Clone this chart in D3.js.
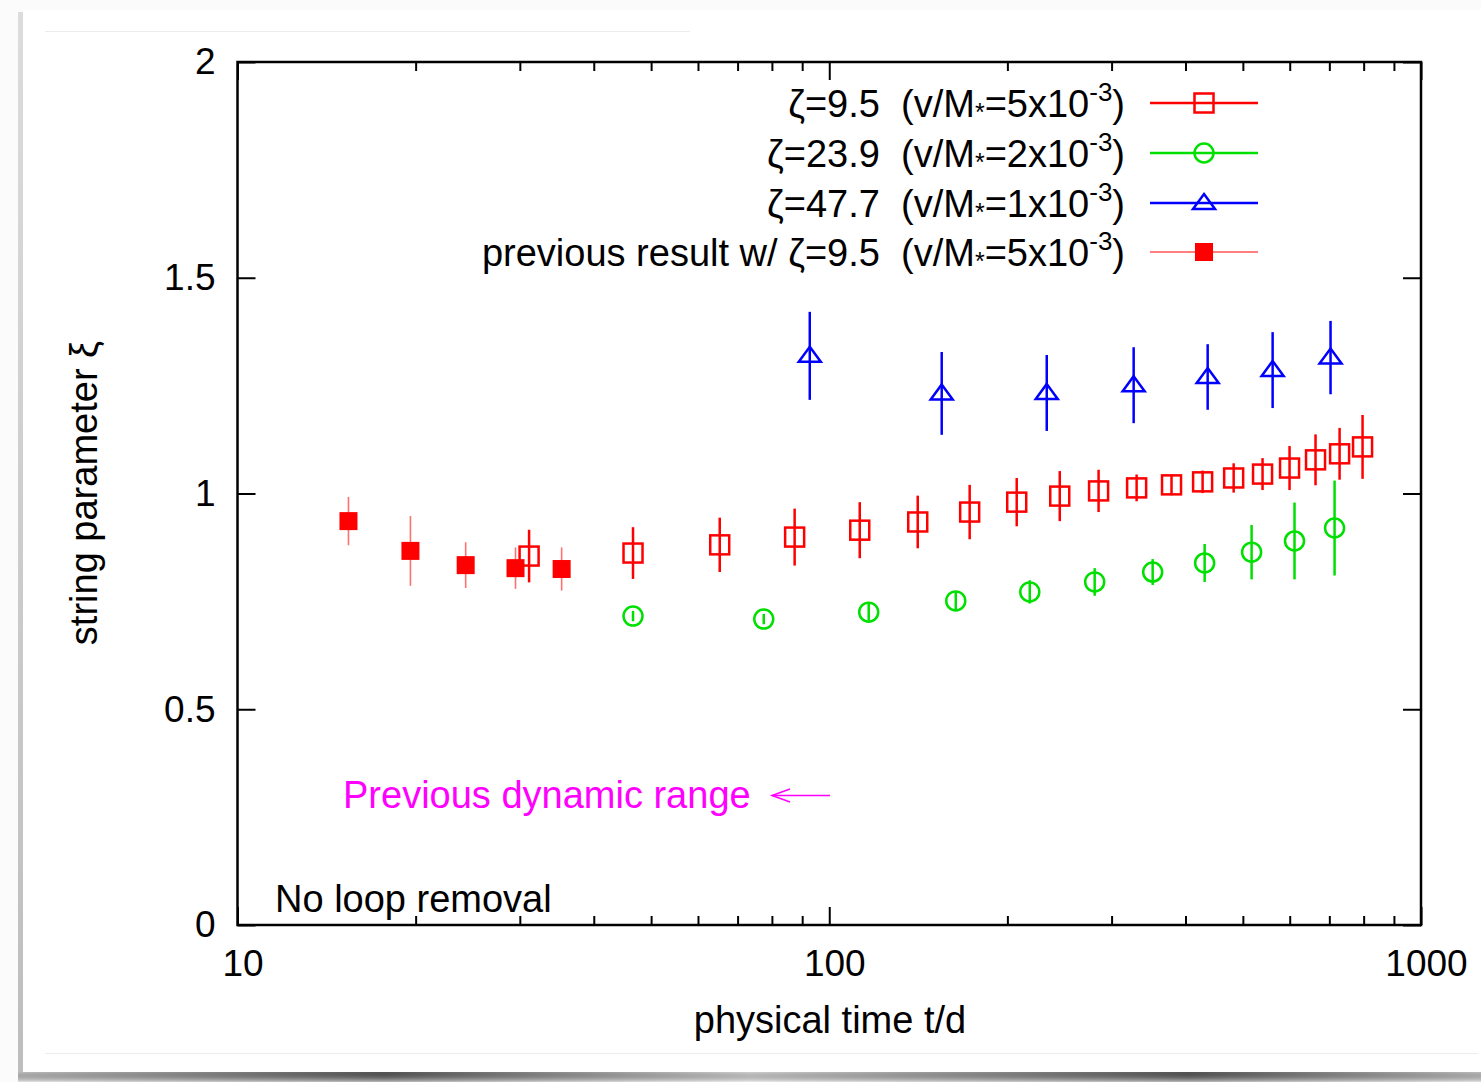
<!DOCTYPE html>
<html>
<head>
<meta charset="utf-8">
<script src="https://cdn.jsdelivr.net/npm/d3@7"></script>
<style>
  html, body { margin: 0; padding: 0; background: #fbfbfb; }
  svg { display: block; }
  text { font-family: "Liberation Sans", Arial, Helvetica, sans-serif; }
</style>
</head>
<body>
<svg id="chart" width="1481" height="1082"></svg>
<script>
// ---------------- data ----------------
const xTicks = [10, 100, 1000];
const xTickLabels = ["10", "100", "1000"];
const xMinorTicks = [20, 30, 40, 50, 60, 70, 80, 90, 200, 300, 400, 500, 600, 700, 800, 900];
const yTicks = [0, 0.5, 1, 1.5, 2];
const yTickLabels = ["0", "0.5", "1", "1.5", "2"];

// zeta = 9.5 (open squares)
const redT   = [31.1, 46.6, 65.3, 87.4, 112.6, 141.1, 172.7, 207.4, 245.2, 285.2, 330.7, 378.8, 427.5, 482.4, 539.8, 599.6, 663.4, 728.5, 796.6];
const redXi  = [0.855, 0.862, 0.881, 0.899, 0.915, 0.934, 0.957, 0.980, 0.994, 1.006, 1.013, 1.020, 1.027, 1.036, 1.045, 1.059, 1.078, 1.092, 1.108];
const redErr = [0.061, 0.060, 0.063, 0.066, 0.065, 0.061, 0.063, 0.056, 0.058, 0.049, 0.031, 0.024, 0.026, 0.034, 0.037, 0.051, 0.059, 0.060, 0.074];

// zeta = 23.9 (open circles)
const greenT   = [46.6, 77.5, 116.6, 163.6, 218.2, 280.9, 352.0, 430.9, 517.3, 611.3, 714.4];
const greenXi  = [0.716, 0.709, 0.725, 0.751, 0.772, 0.795, 0.818, 0.839, 0.864, 0.890, 0.920];
const greenErr = [0.012, 0.012, 0.020, 0.022, 0.027, 0.032, 0.030, 0.044, 0.063, 0.089, 0.110];

// zeta = 47.7 (open triangles)
const blueT   = [92.7, 154.9, 233.1, 326.9, 436.0, 561.4, 703.3];
const blueXi  = [1.319, 1.232, 1.233, 1.251, 1.270, 1.286, 1.315];
const blueErr = [0.102, 0.096, 0.088, 0.088, 0.076, 0.088, 0.085];

// previous result, zeta = 9.5 (filled squares)
const prevT   = [15.4, 19.6, 24.3, 29.5, 35.3];
const prevXi  = [0.936, 0.867, 0.834, 0.827, 0.825];
const prevErr = [0.056, 0.081, 0.053, 0.048, 0.050];

const legendZeta = ["9.5", "23.9", "47.7", "9.5"];
const legendCoef = ["5", "2", "1", "5"];
const legendPrefix = ["", "", "", "previous result w/ "];

// ---------------- layout ----------------
const svg = d3.select("#chart");
const L = 237.5, R = 1421, T = 62, B = 925;
const x = d3.scaleLog().domain([10, 1000]).range([L, R]);
const y = d3.scaleLinear().domain([0, 2]).range([B, T]);
const FS = 38;
const FT = 37;

// card background + shadow
const defs = svg.append("defs");
const gb = defs.append("linearGradient").attr("id", "gb").attr("x1", 0).attr("x2", 1).attr("y1", 0).attr("y2", 0);
gb.append("stop").attr("offset", "0%").attr("stop-color", "#bdbdbd");
gb.append("stop").attr("offset", "25%").attr("stop-color", "#555");
gb.append("stop").attr("offset", "50%").attr("stop-color", "#cfcfcf");
gb.append("stop").attr("offset", "80%").attr("stop-color", "#555");
gb.append("stop").attr("offset", "100%").attr("stop-color", "#bdbdbd");
const gv = defs.append("linearGradient").attr("id", "gv").attr("x1", 0).attr("x2", 0).attr("y1", 0).attr("y2", 1);
gv.append("stop").attr("offset", "0%").attr("stop-color", "#dcdcdc");
gv.append("stop").attr("offset", "100%").attr("stop-color", "#bdbdbd");
const gvb = defs.append("linearGradient").attr("id", "gvb").attr("x1", 0).attr("x2", 0).attr("y1", 0).attr("y2", 1);
gvb.append("stop").attr("offset", "0%").attr("stop-color", "#000").attr("stop-opacity", 0.0);
gvb.append("stop").attr("offset", "100%").attr("stop-color", "#fff").attr("stop-opacity", 0.6);

svg.append("rect").attr("x", 18).attr("y", 12).attr("width", 7).attr("height", 1062).attr("fill", "url(#gv)");
svg.append("rect").attr("x", 18).attr("y", 1072).attr("width", 1463).attr("height", 10).attr("fill", "url(#gb)");
svg.append("rect").attr("x", 18).attr("y", 1072).attr("width", 1463).attr("height", 10).attr("fill", "url(#gvb)");
svg.append("rect").attr("x", 23).attr("y", 10).attr("width", 1458).attr("height", 1062).attr("fill", "#fff");
svg.append("line").attr("x1", 45).attr("x2", 690).attr("y1", 31.5).attr("y2", 31.5).attr("stroke", "#ececec").attr("stroke-width", 1);
svg.append("line").attr("x1", 45).attr("x2", 1478).attr("y1", 1053.5).attr("y2", 1053.5).attr("stroke", "#ececec").attr("stroke-width", 1);

// ---------------- axes ----------------
const axB = svg.append("g").attr("transform", `translate(0,${B})`)
  .call(d3.axisBottom(x).tickValues(xTicks).tickFormat((d, i) => xTickLabels[i]).tickSizeInner(-18).tickSizeOuter(0).tickPadding(25));
const axBm = svg.append("g").attr("transform", `translate(0,${B})`)
  .call(d3.axisBottom(x).tickValues(xMinorTicks).tickFormat("").tickSizeInner(-9).tickSizeOuter(0));
const axT = svg.append("g").attr("transform", `translate(0,${T})`)
  .call(d3.axisTop(x).tickValues(xTicks).tickFormat("").tickSizeInner(-18).tickSizeOuter(0));
const axTm = svg.append("g").attr("transform", `translate(0,${T})`)
  .call(d3.axisTop(x).tickValues(xMinorTicks).tickFormat("").tickSizeInner(-9).tickSizeOuter(0));
const axL = svg.append("g").attr("transform", `translate(${L},0)`)
  .call(d3.axisLeft(y).tickValues(yTicks).tickFormat((d, i) => yTickLabels[i]).tickSizeInner(-18).tickSizeOuter(0).tickPadding(22));
const axR = svg.append("g").attr("transform", `translate(${R},0)`)
  .call(d3.axisRight(y).tickValues(yTicks).tickFormat("").tickSizeInner(-18).tickSizeOuter(0));

[axB, axBm, axT, axTm, axL, axR].forEach(g => {
  g.select(".domain").remove();
  g.selectAll(".tick line").attr("stroke", "#000").attr("stroke-width", 2);
  g.selectAll(".tick text").attr("font-size", FT).attr("fill", "#000")
    .attr("font-family", '"Liberation Sans", Arial, sans-serif');
});
axB.selectAll(".tick text").attr("dx", 5);

svg.append("rect").attr("x", L).attr("y", T).attr("width", R - L).attr("height", B - T)
  .attr("fill", "none").attr("stroke", "#000").attr("stroke-width", 2.5);

// axis titles
svg.append("text").attr("x", 830).attr("y", 1033).attr("text-anchor", "middle")
  .attr("font-size", FS).text("physical time t/d");
svg.append("text").attr("transform", `translate(97,${493}) rotate(-90)`).attr("text-anchor", "middle")
  .attr("font-size", FS).text("string parameter ξ");

// ---------------- series ----------------
function series(ts, xs, es) { return ts.map((t, i) => ({ t, v: xs[i], e: es[i] })); }
const red = series(redT, redXi, redErr);
const green = series(greenT, greenXi, greenErr);
const blue = series(blueT, blueXi, blueErr);
const prev = series(prevT, prevXi, prevErr);

function errorBars(data, color, width) {
  svg.append("g").selectAll("line").data(data).join("line")
    .attr("x1", d => x(d.t)).attr("x2", d => x(d.t))
    .attr("y1", d => y(d.v + d.e)).attr("y2", d => y(d.v - d.e))
    .attr("stroke", color).attr("stroke-width", width);
}

// previous result (filled squares)
errorBars(prev, "#ff7070", 1.6);
svg.append("g").selectAll("rect").data(prev).join("rect")
  .attr("x", d => x(d.t) - 9).attr("y", d => y(d.v) - 9).attr("width", 18).attr("height", 18)
  .attr("fill", "#ff0000");

// red open squares
errorBars(red, "#ff0000", 2.5);
svg.append("g").selectAll("rect").data(red).join("rect")
  .attr("x", d => x(d.t) - 9.5).attr("y", d => y(d.v) - 9.5).attr("width", 19).attr("height", 19)
  .attr("fill", "none").attr("stroke", "#ff0000").attr("stroke-width", 2.5);

// green open circles
errorBars(green, "#00e000", 2.5);
svg.append("g").selectAll("circle").data(green).join("circle")
  .attr("cx", d => x(d.t)).attr("cy", d => y(d.v)).attr("r", 9.5)
  .attr("fill", "none").attr("stroke", "#00e000").attr("stroke-width", 2.5);

// blue open triangles
const triPath = "M0,-9 L11,6 L-11,6 Z";
errorBars(blue, "#0000ff", 2.5);
svg.append("g").selectAll("path").data(blue).join("path")
  .attr("transform", d => `translate(${x(d.t)},${y(d.v)})`).attr("d", triPath)
  .attr("fill", "none").attr("stroke", "#0000ff").attr("stroke-width", 2.5);

// ---------------- legend ----------------
const legRows = [103, 153, 203, 252];
const legColors = ["#ff0000", "#00e000", "#0000ff", "#ff0000"];
legRows.forEach((ry, i) => {
  const t = svg.append("text").attr("x", 1125).attr("y", ry + 14).attr("text-anchor", "end").attr("font-size", FS);
  t.append("tspan").text(`${legendPrefix[i]}ζ=${legendZeta[i]}\u00a0\u00a0(v/M`);
  t.append("tspan").attr("font-size", 25).attr("dy", 4).text("*");
  t.append("tspan").attr("dy", -4).text(`=${legendCoef[i]}x10`);
  t.append("tspan").attr("font-size", 26).attr("dy", -16).text("-3");
  t.append("tspan").attr("dy", 16).text(")");

  svg.append("line").attr("x1", 1150).attr("x2", 1258).attr("y1", ry).attr("y2", ry)
    .attr("stroke", legColors[i]).attr("stroke-width", i === 3 ? 1 : 2.5);
  const cx = 1204;
  if (i === 0) {
    svg.append("rect").attr("x", cx - 9.5).attr("y", ry - 9.5).attr("width", 19).attr("height", 19)
      .attr("fill", "none").attr("stroke", legColors[i]).attr("stroke-width", 2.5);
  } else if (i === 1) {
    svg.append("circle").attr("cx", cx).attr("cy", ry).attr("r", 9.5)
      .attr("fill", "none").attr("stroke", legColors[i]).attr("stroke-width", 2.5);
  } else if (i === 2) {
    svg.append("path").attr("transform", `translate(${cx},${ry})`).attr("d", triPath)
      .attr("fill", "none").attr("stroke", legColors[i]).attr("stroke-width", 2.5);
  } else {
    svg.append("rect").attr("x", cx - 9).attr("y", ry - 9).attr("width", 18).attr("height", 18)
      .attr("fill", legColors[i]);
  }
});

// ---------------- annotations ----------------
svg.append("text").attr("x", 343).attr("y", 808).attr("font-size", FS).attr("fill", "#ff00ff")
  .text("Previous dynamic range");
svg.append("line").attr("x1", 830).attr("x2", 772).attr("y1", 795.5).attr("y2", 795.5)
  .attr("stroke", "#ff00ff").attr("stroke-width", 1.5);
svg.append("path").attr("d", "M790,789 L772,795.5 L790,802")
  .attr("fill", "none").attr("stroke", "#ff00ff").attr("stroke-width", 1.5);

svg.append("text").attr("x", 275).attr("y", 912).attr("font-size", FS).text("No loop removal");
</script>
</body>
</html>
